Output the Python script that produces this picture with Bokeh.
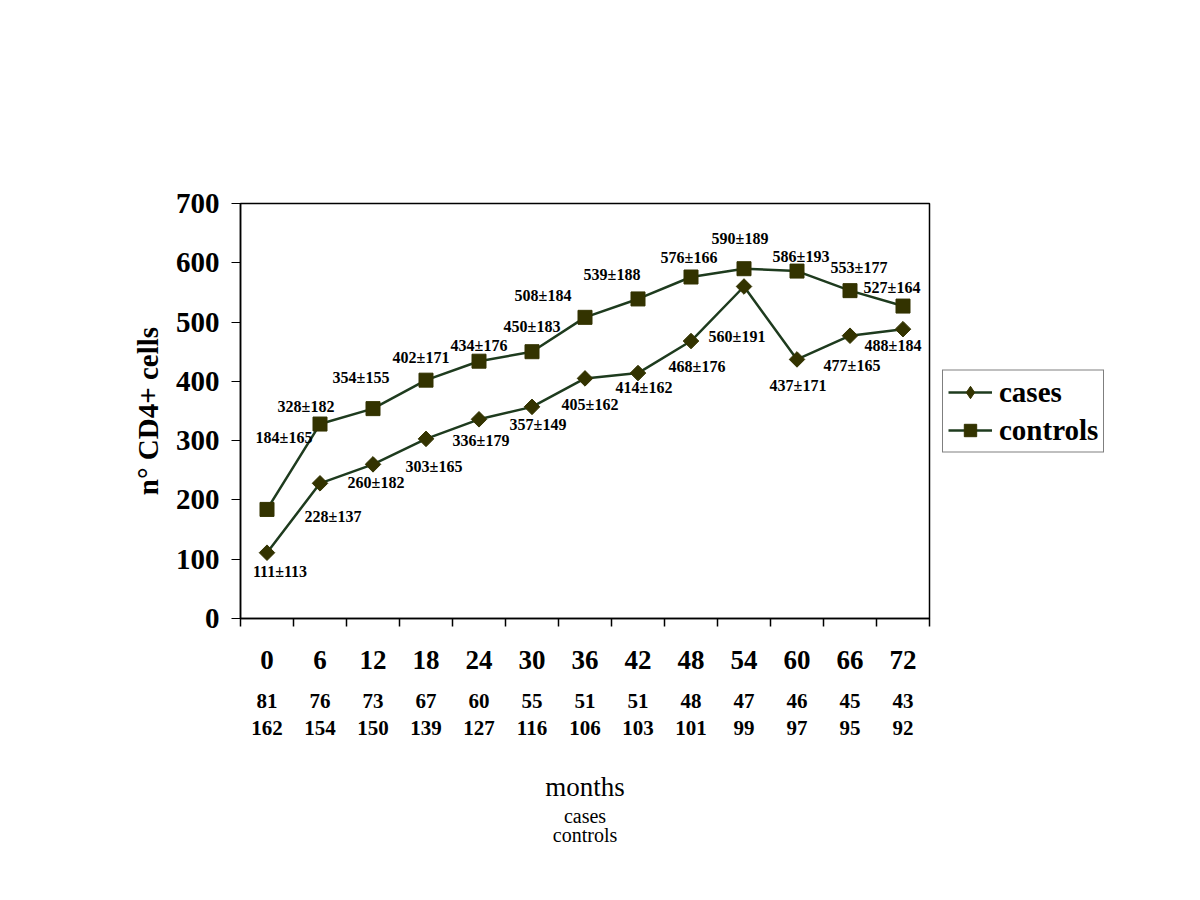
import math
from bokeh.plotting import figure
from bokeh.models import (ColumnDataSource, FixedTicker, LabelSet, Legend,
                          LegendItem, Range1d, LinearAxis)
from bokeh.embed import file_html
from bokeh.resources import INLINE

# ---- data ----
months = ["0", "6", "12", "18", "24", "30", "36", "42", "48", "54", "60", "66", "72"]
cases_mean = [111, 228, 260, 303, 336, 357, 405, 414, 468, 560, 437, 477, 488]
cases_sd = [113, 137, 182, 165, 179, 149, 162, 162, 176, 191, 171, 165, 184]
controls_mean = [184, 328, 354, 402, 434, 450, 508, 539, 576, 590, 586, 553, 527]
controls_sd = [165, 182, 155, 171, 176, 183, 184, 188, 166, 189, 193, 177, 164]
cases_n = [81, 76, 73, 67, 60, 55, 51, 51, 48, 47, 46, 45, 43]
controls_n = [162, 154, 150, 139, 127, 116, 106, 103, 101, 99, 97, 95, 92]
y_ticks = [0, 100, 200, 300, 400, 500, 600, 700]

# ---- label placement (screen offsets) ----
cases_dx = [13, 13, 3, 8, 2, 6, 5, 6, 6, -7, 1, 2, -10]
cases_dy = [-19, -33, -18, -28, -21, -18, -26, -14, -25, -50, -26, -30, -16]
controls_dx = [17, -14, -12, -5, 0, 0, -42, -26, -2, -4, 4, 9, -11]
controls_dy = [72, 18, 31, 23, 16, 25, 22, 24, 20, 30, 15, 23, 19]

FONT = "Liberation Serif"
LINE_C = "#1e3b1e"
MARK_C = "#333300"

idx = list(range(len(months)))

p = figure(frame_width=689, frame_height=415, output_backend="svg", toolbar_location=None,
           x_range=Range1d(-0.5, len(months) - 0.5), y_range=Range1d(0, 700),
           min_border_left=240, min_border_right=0, min_border_top=203,
           min_border_bottom=0)
p.background_fill_color = "white"
p.border_fill_color = "white"
p.outline_line_color = "black"
p.outline_line_width = 1.5
p.xgrid.visible = False
p.ygrid.visible = False

src_cases = ColumnDataSource(dict(
    x=idx, y=cases_mean,
    t=[f"{m}±{s}" for m, s in zip(cases_mean, cases_sd)],
    dx=cases_dx, dy=cases_dy))
src_ctrl = ColumnDataSource(dict(
    x=idx, y=controls_mean,
    t=[f"{m}±{s}" for m, s in zip(controls_mean, controls_sd)],
    dx=controls_dx, dy=controls_dy))

l1 = p.line("x", "y", source=src_cases, line_color=LINE_C, line_width=2.5)
m1 = p.scatter("x", "y", source=src_cases, marker="square", size=11, angle=math.pi / 4,
               fill_color=MARK_C, line_color=MARK_C)
l2 = p.line("x", "y", source=src_ctrl, line_color=LINE_C, line_width=2.5)
m2 = p.scatter("x", "y", source=src_ctrl, marker="square", size=14,
               fill_color=MARK_C, line_color=MARK_C)
# legend-only diamond glyph (no points drawn)
m1_leg = p.scatter(x=[float("nan")], y=[float("nan")], marker="diamond", size=15,
                   fill_color=MARK_C, line_color=MARK_C)

for src in (src_cases, src_ctrl):
    p.add_layout(LabelSet(x="x", y="y", text="t", source=src,
                          x_offset="dx", y_offset="dy",
                          text_align="center", text_baseline="middle",
                          text_font=FONT, text_font_style="bold",
                          text_font_size="16px", text_color="black"))

# y axis
yax = p.yaxis[0]
yax.ticker = FixedTicker(ticks=y_ticks)
yax.minor_tick_line_color = None
yax.major_tick_out = 9
yax.major_tick_in = 0
yax.major_label_standoff = 12
yax.major_label_text_font = FONT
yax.major_label_text_font_style = "bold"
yax.major_label_text_font_size = "29px"
yax.major_label_text_color = "black"
yax.axis_label = "n° CD4+ cells"
yax.axis_label_text_font = FONT
yax.axis_label_text_font_style = "bold"
yax.axis_label_text_font_size = "29px"
yax.axis_label_text_color = "black"
yax.axis_label_standoff = 9
yax.axis_line_width = 1.5

# x axis (months)
xax = p.xaxis[0]
xax.ticker = FixedTicker(ticks=idx, minor_ticks=[i - 0.5 for i in range(len(months) + 1)])
xax.major_label_overrides = {i: m for i, m in enumerate(months)}
xax.major_tick_line_color = None
xax.major_tick_out = 0
xax.major_tick_in = 0
xax.minor_tick_out = 8
xax.minor_tick_in = 0
xax.minor_tick_line_width = 1.5
xax.major_label_standoff = 24
xax.major_label_text_font = FONT
xax.major_label_text_font_style = "bold"
xax.major_label_text_font_size = "27px"
xax.major_label_text_color = "black"
xax.axis_line_width = 1.5


def plain_axis(**kw):
    a = LinearAxis(**kw)
    a.axis_line_color = None
    a.major_tick_line_color = None
    a.minor_tick_line_color = None
    a.major_tick_out = 0
    a.major_tick_in = 0
    a.minor_tick_out = 0
    a.minor_tick_in = 0
    return a


# counts rows
for vals, standoff in ((cases_n, 22), (controls_n, 10)):
    a = plain_axis(ticker=FixedTicker(ticks=idx, minor_ticks=[]))
    a.major_label_overrides = {i: str(v) for i, v in enumerate(vals)}
    a.major_label_standoff = standoff
    a.major_label_text_font = FONT
    a.major_label_text_font_style = "bold"
    a.major_label_text_font_size = "21px"
    a.major_label_text_color = "black"
    p.add_layout(a, "below")

# "months" and "cases / controls"
for text, size, standoff, lh in (("months", "27px", 34, 1.0), ("cases\ncontrols", "20px", 0, 0.9)):
    a = plain_axis(ticker=FixedTicker(ticks=[], minor_ticks=[]))
    a.axis_label = text
    a.axis_label_standoff = standoff
    a.axis_label_text_font = FONT
    a.axis_label_text_font_style = "normal"
    a.axis_label_text_font_size = size
    a.axis_label_text_color = "black"
    a.axis_label_text_line_height = lh
    p.add_layout(a, "below")

legend = Legend(items=[LegendItem(label="cases", renderers=[l1, m1_leg]),
                       LegendItem(label="controls", renderers=[l2, m2])],
                location="left", orientation="vertical")
legend.label_text_font = FONT
legend.label_text_font_style = "bold"
legend.label_text_font_size = "29px"
legend.label_text_color = "black"
legend.glyph_width = 44
legend.glyph_height = 31
legend.label_height = 31
legend.label_standoff = 7
legend.spacing = 5
legend.padding = 5
legend.margin = 13
legend.border_line_color = "black"
legend.border_line_width = 1.5
legend.background_fill_color = "white"
p.add_layout(legend, "right")

open("out.html", "w").write(file_html(p, INLINE))
